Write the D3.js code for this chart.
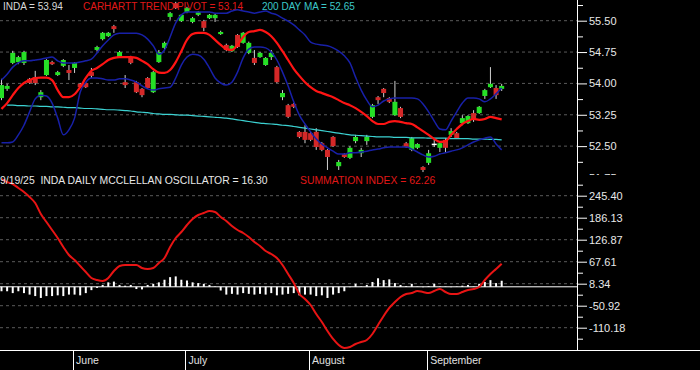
<!DOCTYPE html>
<html>
<head>
<meta charset="utf-8">
<script src="https://cdn.jsdelivr.net/npm/d3@7"></script>
<style>
  body { margin: 0; background: #000; }
  svg { display: block; }
  text { font-family: "Liberation Sans", Arial, sans-serif; }
</style>
</head>
<body>
<svg id="chart" width="700" height="370"></svg>
<script>
// daily INDA, May 13 .. Sep 19 (index = trading day)
const opens = [53.65,53.87,54.49,54.51,54.49,54.11,54.15,53.67,54.20,54.51, 54.20,54.42,54.32,54.37,53.99,54.01,54.27,54.80,55.06,55.13,
  55.37,54.63,54.03,54.63,54.03,53.87,54.13,53.79,54.51,54.85, 55.59,55.92,55.49,55.71,55.47,55.64,55.49,55.56,55.56,55.18,
  54.92,54.77,55.16,54.97,54.73,54.61,54.63,54.44,54.63,54.39, 53.67,53.48,53.51,52.84,52.84,52.81,52.84,52.57,52.41,52.72,
  52.02,52.31,52.22,52.62,52.33,52.62,53.20,53.67,53.87,53.65, 53.24,53.41,52.57,52.41,52.46,52.00,52.10,52.56,52.46,52.65,
  52.77,52.81,53.05,53.05,53.29,53.29,53.70,53.91,53.89,53.87];
const highs = [54.11,53.99,54.78,54.66,54.78,54.13,54.30,53.84,54.58,54.54, 54.30,54.58,54.44,54.51,54.01,54.03,54.37,54.90,55.23,55.23,
  55.40,54.78,54.20,54.66,54.06,53.89,54.15,54.30,54.80,55.00, 55.71,55.95,55.66,55.83,55.59,55.73,55.52,55.66,55.66,55.26,
  54.95,54.92,55.18,55.23,55.00,54.80,54.75,54.63,54.80,54.42, 53.84,53.51,53.53,52.86,53.00,52.84,52.93,52.60,52.43,52.74,
  52.17,52.33,52.50,52.77,52.46,52.77,53.51,53.70,53.89,53.67, 54.06,53.44,52.60,52.72,52.57,52.02,52.41,52.65,52.60,52.69,
  52.93,52.84,53.24,53.24,53.36,53.46,53.87,54.39,53.96,53.99];
const lows = [53.60,53.82,54.46,54.46,54.44,53.99,53.96,53.60,54.18,54.44, 54.18,54.39,54.08,54.25,53.89,53.89,54.13,54.77,55.03,55.11,
  55.21,54.61,53.89,54.46,53.77,53.67,53.87,53.77,54.49,54.82, 55.52,55.78,55.47,55.68,55.44,55.61,55.25,55.54,55.47,55.16,
  54.77,54.75,54.85,54.95,54.70,54.44,54.61,54.42,54.56,54.01, 53.60,53.17,53.41,52.69,52.57,52.62,52.41,52.38,51.93,52.48,
  51.93,52.22,52.19,52.57,52.24,52.53,53.17,53.51,53.67,53.53, 53.22,53.17,52.46,52.38,52.43,51.88,52.05,52.48,52.36,52.36,
  52.72,52.67,53.00,53.03,53.08,53.27,53.63,53.89,53.63,53.82];
const closes = [53.96,53.94,54.73,54.63,54.75,54.01,54.01,53.79,54.56,54.46, 54.27,54.56,54.25,54.49,53.91,53.91,54.18,54.87,55.21,55.21,
  55.30,54.75,53.96,54.49,53.79,53.72,53.89,54.27,54.75,54.97, 55.68,55.80,55.64,55.80,55.56,55.71,55.33,55.64,55.64,55.23,
  54.80,54.90,54.87,55.21,54.97,54.49,54.73,54.61,54.73,54.03, 53.77,53.20,53.44,52.72,52.65,52.65,52.48,52.41,52.24,52.50,
  52.12,52.24,52.46,52.72,52.41,52.72,53.48,53.60,53.77,53.56, 53.56,53.20,52.48,52.69,52.55,51.93,52.33,52.56,52.57,52.46,
  52.86,52.69,53.17,53.22,53.13,53.44,53.84,53.99,53.72,53.94];

const pivot = [53.39,53.53,53.72,53.89,54.01,54.08,54.13,54.14,54.14,54.08, 53.84,53.67,53.67,53.74,53.91,54.13,54.30,54.37,54.46,54.56,
  54.61,54.63,54.63,54.63,54.61,54.54,54.46,54.34,54.26,54.25, 54.32,54.51,54.77,55.04,55.18,55.21,55.21,55.16,55.04,54.92,
  54.82,54.80,54.92,55.11,55.23,55.25,55.28,55.23,55.13,54.97, 54.77,54.56,54.35,54.18,54.03,53.91,53.82,53.77,53.72,53.67,
  53.60,53.53,53.48,53.41,53.32,53.22,53.10,53.03,53.03,53.08, 53.10,53.08,53.05,53.03,52.95,52.86,52.77,52.67,52.60,52.62,
  52.77,52.91,53.03,53.10,53.15,53.13,53.15,53.20,53.17,53.14];
const ma200 = [null,53.48,53.48,53.47,53.47,53.46,53.46,53.45,53.45,53.44, 53.44,53.43,53.42,53.42,53.41,53.40,53.40,53.39,53.38,53.37,
  53.37,53.36,53.35,53.34,53.32,53.31,53.30,53.28,53.27,53.26, 53.26,53.25,53.24,53.24,53.23,53.22,53.21,53.20,53.19,53.18,
  53.17,53.15,53.13,53.11,53.09,53.07,53.05,53.04,53.03,53.02, 53.00,52.99,52.97,52.95,52.93,52.91,52.89,52.87,52.85,52.83,
  52.81,52.79,52.77,52.76,52.75,52.74,52.73,52.72,52.72,52.72, 52.71,52.71,52.71,52.70,52.70,52.70,52.69,52.69,52.69,52.69,
  52.68,52.68,52.68,52.68,52.67,52.67,52.67,52.66,52.66,52.65];
const upperBand = [54.08,54.22,54.39,54.49,54.54,54.54,54.56,54.58,54.61,54.63, 54.54,54.49,54.49,54.49,54.51,54.54,54.58,54.73,54.90,55.04,
  55.16,55.20,55.20,55.20,55.20,55.16,55.06,54.90,54.70,54.80, 55.11,55.45,55.64,55.71,55.71,55.71,55.71,55.71,55.68,55.68,
  55.68,55.73,55.76,55.73,55.71,55.68,55.71,55.73,55.68,55.64, 55.56,55.49,55.40,55.28,55.16,54.99,54.94,54.92,54.90,54.85,
  54.77,54.66,54.49,54.15,53.84,53.60,53.44,53.48,53.58,53.63, 53.65,53.65,53.65,53.65,53.63,53.51,53.32,53.10,52.91,52.89,
  53.10,53.32,53.53,53.65,53.65,53.63,53.56,53.63,53.75,53.89];
const lowerBand = [52.58,52.58,52.60,52.77,53.00,53.32,53.63,53.72,53.70,53.53, 53.17,52.77,52.89,53.17,53.79,54.03,54.13,54.13,54.11,54.08,
  54.08,54.11,54.11,54.08,54.03,53.94,53.87,53.84,53.87,53.89, 53.91,54.13,54.44,54.63,54.70,54.68,54.58,54.37,54.13,54.01,
  53.96,54.03,54.27,54.61,54.82,54.87,54.87,54.85,54.75,54.56, 54.27,53.94,53.56,53.24,53.03,52.84,52.67,52.55,52.46,52.38,
  52.31,52.31,52.34,52.34,52.36,52.38,52.41,52.43,52.46,52.48, 52.48,52.48,52.48,52.43,52.36,52.29,52.24,52.26,52.31,52.34,
  52.38,52.41,52.46,52.53,52.60,52.65,52.69,52.72,52.55,52.41];

const oscillator = [-12,-12,-17,-12,-17,-21,-25,-30,-25,-25, -23,-25,-21,-21,-23,-17,-9,-3,5,12,
  14,5,3,5,-6,-7,5,8,12,19, 26,28,19,17,12,10,8,5,1,-10,
  -21,-19,-21,-17,-19,-21,-19,-21,-17,-23, -21,-19,-17,-23,-21,-21,-25,-23,-30,-21,
  -17,-12,-1,8,1,5,13,23,18,20, 10,5,2,8,1,-1,2,8,1,1,
  -1,1,3,5,1,8,13,18,10,16.3];
const summation = [290.3,282.2,276.8,266.1,255.3,241.8,225.7,196.1,174.5,153.0, 131.4,107.2,85.6,72.2,56.0,39.9,23.7,18.3,15.6,23.7,
  42.5,56.0,58.7,58.7,58.7,50.6,47.9,50.6,64.1,77.6, 107.2,131.4,147.6,166.4,182.6,193.4,198.7,204.1,201.4,188.0,
  177.2,163.7,153.0,144.9,134.1,120.6,109.9,96.4,88.3,77.6, 58.7,34.5,10.2,-19.4,-32.9,-49.0,-73.2,-94.8,-119.0,-140.6,
  -156.7,-164.8,-162.1,-154.0,-148.7,-143.3,-127.1,-102.9,-78.6,-57.1, -40.9,-27.5,-19.4,-16.7,-11.3,-14.0,-16.7,-11.3,-5.9,-14.0,
  -19.4,-19.4,-14.0,-8.6,-5.9,-0.5,18.3,34.5,47.9,62.26];

const months = ["June", "July", "August", "September"];
const monthStart = [13, 33, 55, 76];
const priceTicks = [55.50, 54.75, 54.00, 53.25, 52.50, 51.75];
const oscTicks = [245.40, 186.13, 126.87, 67.61, 8.34, -50.92, -110.18];

const W = 700, H = 370;
const plotRight = 577, topBottom = 175, botBottom = 350;

const svg = d3.select("#chart");
svg.append("rect").attr("width", W).attr("height", H).attr("fill", "#000");

const x = d3.scaleLinear().domain([0, 102.4]).range([1.5, plotRight]);
const yTop = d3.scaleLinear().domain([51.75, 55.50]).range([177.5, 20.7]);
const yBot = d3.scaleLinear().domain([-110.18, 245.40]).range([327.7, 195.7]);

const defs = svg.append("defs");
defs.append("clipPath").attr("id", "clipTop").append("rect")
    .attr("x", 0).attr("y", 0).attr("width", W).attr("height", topBottom);
defs.append("clipPath").attr("id", "clipTopPlot").append("rect")
    .attr("x", 0).attr("y", 0).attr("width", plotRight).attr("height", topBottom);
defs.append("clipPath").attr("id", "clipBot").append("rect")
    .attr("x", 0).attr("y", topBottom).attr("width", plotRight).attr("height", botBottom - topBottom);

function mids(ticks) {
    let m = [];
    for (let k = 0; k < ticks.length - 1; k++) m.push((ticks[k] + ticks[k + 1]) / 2);
    m.unshift(ticks[0] + (ticks[0] - ticks[1]) / 2);
    m.push(ticks[ticks.length - 1] - (ticks[0] - ticks[1]) / 2);
    return m;
}

// ---------- top panel ----------
const topG = svg.append("g").attr("clip-path", "url(#clipTopPlot)");

topG.selectAll(".gridTop").data(priceTicks).enter().append("line")
    .attr("x1", 0).attr("x2", plotRight)
    .attr("y1", d => yTop(d)).attr("y2", d => yTop(d))
    .attr("stroke", "#5a5a5a").attr("stroke-dasharray", "3,3");

topG.append("text").attr("x", 3).attr("y", 9.5).attr("fill", "#d8d8d8")
    .attr("font-size", "10px").text("INDA = 53.94");
topG.append("text").attr("x", 83).attr("y", 9.5).attr("fill", "#e01818")
    .attr("font-size", "10px").text("CARHARTT TREND PIVOT = 53.14");
topG.append("text").attr("x", 262).attr("y", 9.5).attr("fill", "#3cc8c8")
    .attr("font-size", "10px").text("200 DAY MA = 52.65");

const candles = d3.range(opens.length).map(i => ({
    i: i, o: opens[i], h: highs[i], l: lows[i], c: closes[i]
}));

const cg = topG.selectAll(".candle").data(candles).enter().append("g");
cg.append("line")
    .attr("x1", d => x(d.i)).attr("x2", d => x(d.i))
    .attr("y1", d => yTop(d.h)).attr("y2", d => yTop(d.l))
    .attr("stroke", "#d0d0d0").attr("stroke-width", 1);
cg.append("rect")
    .attr("x", d => x(d.i) - 2.5).attr("width", 5)
    .attr("y", d => yTop(Math.max(d.o, d.c)))
    .attr("height", d => Math.max(1.5, Math.abs(yTop(d.o) - yTop(d.c))))
    .attr("fill", d => d.c > d.o ? "#26e026" : (d.c < d.o ? "#d42828" : "#ffffff"));

const lineOf = (arr, yS) => d3.line()
    .defined(d => d != null)
    .x((d, i) => x(i)).y(d => yS(d))
    .curve(d3.curveMonotoneX)(arr);

topG.append("path").attr("d", lineOf(ma200, yTop))
    .attr("fill", "none").attr("stroke", "#3cd2d2").attr("stroke-width", 1.2);
topG.append("path").attr("d", lineOf(upperBand, yTop))
    .attr("fill", "none").attr("stroke", "#1820a8").attr("stroke-width", 1.5);
topG.append("path").attr("d", lineOf(lowerBand, yTop))
    .attr("fill", "none").attr("stroke", "#1820a8").attr("stroke-width", 1.5);
topG.append("path").attr("d", lineOf(pivot, yTop))
    .attr("fill", "none").attr("stroke", "#ff1414").attr("stroke-width", 2.2);

// ---------- bottom panel ----------
const botG = svg.append("g").attr("clip-path", "url(#clipBot)");
botG.append("rect").attr("x", 0).attr("y", topBottom).attr("width", plotRight)
    .attr("height", botBottom - topBottom).attr("fill", "#000");

botG.selectAll(".gridBot").data(oscTicks).enter().append("line")
    .attr("x1", 0).attr("x2", plotRight)
    .attr("y1", d => yBot(d)).attr("y2", d => yBot(d))
    .attr("stroke", "#5a5a5a").attr("stroke-dasharray", "3,3");

botG.append("line").attr("x1", 0).attr("x2", plotRight)
    .attr("y1", yBot(0)).attr("y2", yBot(0))
    .attr("stroke", "#ffffff").attr("stroke-width", 1);

botG.selectAll(".osc").data(oscillator).enter().append("rect")
    .attr("x", (d, i) => x(i) - 1)
    .attr("width", 2)
    .attr("y", d => Math.min(yBot(d), yBot(0)))
    .attr("height", d => Math.abs(yBot(d) - yBot(0)))
    .attr("fill", "#ffffff");

botG.append("path").attr("d", lineOf(summation, yBot))
    .attr("fill", "none").attr("stroke", "#e81414").attr("stroke-width", 2);

botG.append("text").attr("x", 0).attr("y", 184).attr("fill", "#e8e8e8")
    .attr("font-size", "10.4px").style("white-space", "pre")
    .text("9/19/25  INDA DAILY MCCLELLAN OSCILLATOR = 16.30");
botG.append("text").attr("x", 300).attr("y", 184).attr("fill", "#e01818")
    .attr("font-size", "10.4px").text("SUMMATION INDEX = 62.26");

// ---------- axes ----------
const fmt = d => d.toFixed(2);

const axTop = svg.append("g").attr("clip-path", "url(#clipTop)")
    .attr("transform", "translate(" + plotRight + ",0)");
axTop.call(d3.axisRight(yTop).tickValues(priceTicks).tickSize(10).tickPadding(2).tickFormat(fmt));
axTop.append("g").call(d3.axisRight(yTop).tickValues(mids(priceTicks)).tickSize(6).tickFormat(""));

const axBot = svg.append("g").attr("transform", "translate(" + plotRight + ",0)");
axBot.call(d3.axisRight(yBot).tickValues(oscTicks).tickSize(10).tickPadding(2).tickFormat(fmt));
axBot.append("g").call(d3.axisRight(yBot)
    .tickValues(mids(oscTicks).filter(v => yBot(v) > topBottom + 3 && yBot(v) < botBottom - 3))
    .tickSize(6).tickFormat(""));

svg.selectAll(".domain").remove();
svg.selectAll(".tick line").attr("stroke", "#ffffff");
svg.selectAll(".tick text").attr("fill", "#e8e8e8")
    .style("font-size", "11px").style("font-family", "'Liberation Sans', Arial, sans-serif");

svg.append("line").attr("x1", plotRight + 0.5).attr("x2", plotRight + 0.5)
    .attr("y1", 0).attr("y2", botBottom).attr("stroke", "#ffffff");
svg.append("line").attr("x1", 0).attr("x2", W)
    .attr("y1", botBottom + 0.5).attr("y2", botBottom + 0.5).attr("stroke", "#ffffff");

// month separators
const mg = svg.selectAll(".month").data(months).enter().append("g");
mg.append("line")
    .attr("x1", (d, k) => Math.round(x(monthStart[k]) - 1.5) + 0.5)
    .attr("x2", (d, k) => Math.round(x(monthStart[k]) - 1.5) + 0.5)
    .attr("y1", botBottom).attr("y2", H).attr("stroke", "#ffffff");
mg.append("text")
    .attr("x", (d, k) => x(monthStart[k]) + 1.5)
    .attr("y", 363.5).attr("fill", "#e0e0e0").attr("font-size", "10.5px")
    .text(d => d);
</script>
</body>
</html>
